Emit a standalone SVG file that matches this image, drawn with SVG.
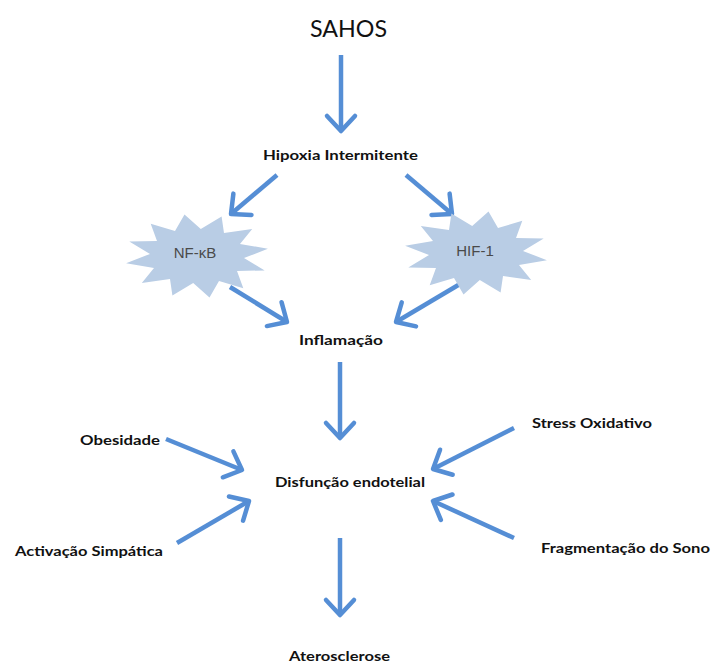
<svg xmlns="http://www.w3.org/2000/svg" width="714" height="664" viewBox="0 0 714 664">
<style>
.lbl{font-family:Lato,"Open Sans","Liberation Sans",sans-serif;font-weight:bold;font-size:14px;fill:#111}
.big{font-family:Lato,"Open Sans","Liberation Sans",sans-serif;font-size:24px;fill:#111}
.star{fill:#B9CDE5;stroke:none}
.stxt{font-family:"Liberation Sans",Arial,sans-serif;font-size:15px;fill:#4a4a4a;text-anchor:middle}
.arr{fill:none;stroke:#558ED5;stroke-width:4.5;stroke-linecap:butt;marker-end:url(#ah)}
</style>
<defs>
<marker id="ah" markerUnits="userSpaceOnUse" markerWidth="40" markerHeight="40" refX="0" refY="0" orient="auto" overflow="visible">
<path d="M-15,-14 L0,0 L-15,14" fill="none" stroke="#558ED5" stroke-width="4.5" stroke-linecap="round" stroke-linejoin="round"/>
</marker>
<polygon id="starShape" points="70.9,-7.3 47,2.1 67.7,14.4 40,15 46.3,32.2 22,25 12.5,41.4 -3.8,27 -24.6,39.5 -27,23 -55.2,27 -43,12 -70.9,7.3 -47,-2.1 -67.7,-14.4 -40,-15 -46.3,-32.2 -22,-25 -12.5,-41.4 3.8,-27 24.6,-39.5 27,-23 55.2,-27 43,-12"/>
</defs>
<rect width="714" height="664" fill="#ffffff"/>
<g id="connectors">
<path class="arr" d="M341,55 L341,131"/>
<path class="arr" d="M277,175 L231,214"/>
<path class="arr" d="M406,175 L452,214"/>
<path class="arr" d="M230,287 L287,322"/>
<path class="arr" d="M460,284 L396,322"/>
<path class="arr" d="M340,362 L340,438"/>
<path class="arr" d="M166,439 L242,470"/>
<path class="arr" d="M514,428 L433,469"/>
<path class="arr" d="M177,543 L249,501"/>
<path class="arr" d="M514,538 L433,501"/>
<path class="arr" d="M340,538 L340,615"/>
</g>
<g id="sahos"><text class="big" x="310" y="37" textLength="77" lengthAdjust="spacingAndGlyphs">SAHOS</text></g>
<g id="hipoxia"><text class="lbl" x="263" y="160" textLength="155" lengthAdjust="spacingAndGlyphs">Hipoxia Intermitente</text></g>
<g id="nfkb"><use href="#starShape" class="star" transform="translate(197,256)"/><text class="stxt" x="195" y="258">NF-κB</text></g>
<g id="hif1"><use href="#starShape" class="star" transform="translate(476,253) scale(-1,1)"/><text class="stxt" x="475" y="256">HIF-1</text></g>
<g id="inflamacao"><text class="lbl" x="299" y="345" textLength="84" lengthAdjust="spacingAndGlyphs">Inflamação</text></g>
<g id="disfuncao"><text class="lbl" x="275" y="487" textLength="150" lengthAdjust="spacingAndGlyphs">Disfunção endotelial</text></g>
<g id="obesidade"><text class="lbl" x="80" y="445" textLength="80" lengthAdjust="spacingAndGlyphs">Obesidade</text></g>
<g id="stress"><text class="lbl" x="532" y="428" textLength="120" lengthAdjust="spacingAndGlyphs">Stress Oxidativo</text></g>
<g id="activacao"><text class="lbl" x="15" y="556" textLength="148" lengthAdjust="spacingAndGlyphs">Activação Simpática</text></g>
<g id="fragmentacao"><text class="lbl" x="541" y="553" textLength="169" lengthAdjust="spacingAndGlyphs">Fragmentação do Sono</text></g>
<g id="aterosclerose"><text class="lbl" x="289" y="661" textLength="101" lengthAdjust="spacingAndGlyphs">Aterosclerose</text></g>
</svg>
